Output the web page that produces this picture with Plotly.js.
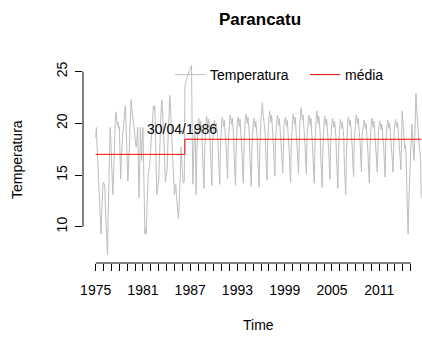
<!DOCTYPE html>
<html><head><meta charset="utf-8">
<script src="https://cdn.plot.ly/plotly-3.0.1.min.js"></script>
<style>html,body{margin:0;padding:0;background:#fff;overflow:hidden}#chart{width:422px;height:338px}</style>
</head><body><div id="chart"></div>
<script>
// Monthly series, ts(start = 1975, frequency = 12)
const startYear = 1975;
const monthsPerYear = 12;

const temp1975to1979 = [
  18.6, 19.6, 18.0, 16.2, 14.5, 13.0, 12.2, 10.8, 9.3, 11.2, 13.0, 14.1,
  14.3, 14.0, 13.8, 11.5, 9.8, 8.5, 7.3, 11.0, 15.5, 18.5, 19.6, 18.4,
  16.8, 15.0, 13.1, 14.5, 17.0, 19.2, 20.5, 21.1, 20.3, 19.8, 20.1, 19.5,
  19.7, 17.5, 14.6, 16.5, 18.2, 19.0, 19.3, 20.4, 21.0, 21.7, 20.5, 18.0,
  16.0, 14.4, 15.8, 17.9, 19.6, 21.0, 22.3, 21.4, 20.6, 20.0, 19.8, 19.3
];
const temp1980to1987 = [
  18.4, 17.9, 17.7, 18.8, 19.6, 16.0, 12.8, 15.8, 19.6, 18.2, 16.4, 18.5,
  19.6, 16.0, 12.5, 9.3, 9.8, 9.3, 11.5, 13.8, 15.0, 15.5, 15.8, 16.7,
  17.8, 19.0, 20.2, 21.0, 21.7, 21.3, 21.7, 19.5, 16.5, 13.1, 13.5, 14.0,
  14.4, 16.5, 18.8, 20.5, 21.8, 22.3, 21.0, 20.0, 19.0, 16.8, 14.3, 14.8,
  15.3, 15.6, 18.0, 20.5, 21.8, 22.7, 21.5, 19.6, 18.6, 17.2, 15.8, 14.5,
  13.1, 13.8, 14.1, 13.1, 12.2, 11.5, 10.8, 11.9, 13.1, 15.2, 17.7, 16.2,
  15.1, 14.4, 14.2, 14.5, 23.7, 23.8, 24.2, 24.3, 24.6, 24.8, 25.0, 25.2,
  25.3, 25.5, 25.6, 19.5, 14.1, 16.5, 19.2, 19.8, 18.0, 13.1, 16.8, 19.6
];
const temp1988to1999 = [
  20.1, 20.5, 19.9, 19.6, 20.2, 19.4, 18.7, 16.6, 14.8, 13.7, 17.4, 19.6,
  20.2, 20.7, 20.1, 19.8, 20.4, 19.5, 18.9, 16.9, 15.1, 14.0, 17.8, 19.8,
  19.9, 20.3, 19.8, 19.5, 20.0, 19.2, 18.6, 16.8, 15.2, 14.1, 17.6, 19.5,
  20.2, 20.6, 20.0, 19.7, 20.3, 19.5, 18.9, 17.4, 15.8, 14.6, 18.1, 19.8,
  20.3, 20.8, 20.2, 19.9, 20.5, 19.6, 19.0, 16.8, 15.1, 14.0, 17.6, 20.0,
  20.2, 20.6, 20.1, 19.7, 20.4, 19.5, 18.8, 17.0, 15.3, 14.2, 17.8, 19.7,
  20.4, 20.9, 20.3, 20.0, 20.6, 19.7, 19.1, 16.7, 15.0, 13.9, 17.5, 20.0,
  20.1, 20.5, 19.9, 19.6, 20.2, 19.3, 18.7, 16.6, 14.9, 13.8, 17.4, 19.8,
  20.6, 21.2, 22.0, 21.0, 20.5, 19.8, 19.2, 17.3, 15.6, 14.5, 18.0, 20.1,
  20.6, 21.2, 20.5, 20.1, 20.8, 19.9, 19.3, 17.7, 16.0, 14.9, 18.4, 20.2,
  20.3, 20.8, 20.2, 19.8, 20.5, 19.6, 19.0, 18.0, 16.3, 15.2, 18.7, 19.9,
  20.2, 20.6, 20.0, 19.7, 20.3, 19.4, 18.8, 17.1, 15.4, 14.3, 17.9, 19.8
];
const temp2000to2009 = [
  20.4, 20.9, 20.3, 19.9, 20.6, 19.7, 19.1, 18.0, 16.4, 15.2, 18.8, 20.0,
  20.7, 21.5, 20.9, 20.3, 20.8, 19.9, 19.3, 17.9, 16.2, 15.1, 18.6, 20.1,
  20.3, 20.8, 20.2, 19.8, 20.5, 19.6, 18.9, 17.0, 15.4, 14.2, 17.8, 19.9,
  20.5, 21.2, 20.6, 20.0, 20.7, 19.8, 19.1, 16.6, 14.9, 13.8, 17.4, 20.0,
  20.2, 20.7, 20.1, 19.8, 20.4, 19.5, 18.9, 17.4, 15.7, 14.6, 18.2, 19.8,
  20.1, 20.5, 19.9, 19.6, 20.2, 19.3, 18.7, 16.5, 14.8, 13.7, 17.3, 19.6,
  19.9, 20.4, 19.8, 19.5, 20.1, 19.2, 18.6, 15.9, 14.2, 13.1, 16.8, 19.5,
  20.2, 20.6, 20.0, 19.8, 20.3, 19.5, 18.9, 17.6, 15.9, 14.8, 18.3, 19.7,
  20.3, 20.8, 20.2, 19.9, 20.5, 19.7, 19.0, 18.1, 16.4, 15.3, 18.8, 19.8,
  19.9, 20.3, 19.8, 19.5, 20.0, 19.2, 18.6, 17.0, 15.3, 14.2, 17.8, 19.6
];
const temp2010to2016 = [
  20.0, 20.5, 19.9, 19.6, 20.2, 19.4, 18.8, 18.1, 16.5, 15.3, 18.7, 19.6,
  19.8, 20.2, 19.7, 19.4, 19.9, 19.1, 18.5, 17.6, 15.9, 14.8, 18.2, 19.5,
  19.9, 20.3, 19.8, 19.5, 20.0, 19.2, 18.6, 18.1, 16.4, 15.3, 18.6, 19.6,
  19.9, 20.4, 19.8, 19.6, 20.1, 19.3, 18.7, 18.3, 16.6, 15.5, 18.8, 21.2,
  20.3, 19.6, 18.8, 17.5, 17.9, 16.8, 14.0, 11.5, 9.3, 12.2, 14.5, 15.7,
  17.5, 18.5, 19.9, 18.5, 17.0, 16.4, 18.0, 20.5, 22.9, 21.5, 20.0, 19.2,
  18.6, 17.9, 17.2, 16.7, 12.8
];

// Means before / after the change point
const breakTime = 1986.33;
const breakLabel = "30/04/1986";
const meanBefore = 17.0;
const meanAfter = 18.46;

// Axis ticks
const tickYears = [];
for (let y = 1975; y <= 2015; y++) tickYears.push(y);
const labelYears = [1975, 1981, 1987, 1993, 1999, 2005, 2011];
const yTicks = [10, 15, 20, 25];

const temperature = [].concat(temp1975to1979, temp1980to1987, temp1988to1999, temp2000to2009, temp2010to2016);
const time = temperature.map((_, i) => startYear + i / monthsPerYear);
const endTime = time[time.length - 1];

const FONT = "Liberation Sans, Arial, Helvetica, sans-serif";

const traces = [
  {
    x: time, y: temperature, type: "scatter", mode: "lines", name: "Temperatura",
    line: {color: "#BEBEBE", width: 1}, legendwidth: 90
  },
  {
    x: [startYear, breakTime, breakTime, endTime],
    y: [meanBefore, meanBefore, meanAfter, meanAfter],
    type: "scatter", mode: "lines", name: "média",
    line: {color: "#FF0000", width: 1}, legendwidth: 42
  }
];

const W = 422, H = 338, L = 83, R = 0, T = 57, B = 75;
const pw = W - L - R, ph = H - T - B;

const layout = {
  width: W, height: H,
  margin: {l: L, r: R, t: T, b: B, pad: 0, autoexpand: false},
  paper_bgcolor: "#fff", plot_bgcolor: "#fff",
  font: {family: FONT, size: 14, color: "#000"},
  title: {text: "<b>Parancatu</b>", font: {family: FONT, size: 17, color: "#000"},
    xref: "container", x: 260 / W, xanchor: "center", yref: "container", y: 1 - 19.5 / H, yanchor: "middle"},
  xaxis: {
    range: [1973.387, 2016.434], showgrid: false, zeroline: false, showline: false,
    tickmode: "array", tickvals: tickYears,
    ticktext: tickYears.map(y => labelYears.includes(y) ? String(y) : ""),
    ticks: "outside", ticklen: 7, tickwidth: 1, tickcolor: "#000",
    ticklabelstandoff: 7, tickfont: {family: FONT, size: 14, color: "#000"}
  },
  yaxis: {
    range: [6.487, 26.42], showgrid: false, zeroline: false, showline: false,
    tickmode: "array", tickvals: yTicks, ticktext: yTicks.map(String),
    ticks: "outside", ticklen: 7, tickwidth: 1, tickcolor: "#000", tickangle: -90,
    ticklabelstandoff: 2, tickfont: {family: FONT, size: 14, color: "#000"}
  },
  shapes: [
    {type: "line", xref: "x", yref: "paper", x0: tickYears[0], x1: tickYears[tickYears.length - 1], y0: 0, y1: 0, line: {color: "#000", width: 1}},
    {type: "line", xref: "paper", yref: "y", x0: 0, x1: 0, y0: yTicks[0], y1: yTicks[yTicks.length - 1], line: {color: "#000", width: 1}}
  ],
  annotations: [
    {text: breakLabel, x: 1986.02, y: 19.44, xref: "x", yref: "y", showarrow: false, xanchor: "center", yanchor: "middle", font: {family: FONT, size: 14, color: "#000"}},
    {text: "Time", xref: "paper", yref: "paper", x: (258.5 - L) / pw, y: (ph + T - 325) / ph, showarrow: false, xanchor: "center", yanchor: "middle", font: {family: FONT, size: 14, color: "#000"}},
    {text: "Temperatura", xref: "paper", yref: "paper", x: (17 - L) / pw, y: (ph + T - 160) / ph, textangle: -90, showarrow: false, xanchor: "center", yanchor: "middle", font: {family: FONT, size: 14, color: "#000"}}
  ],
  showlegend: true,
  legend: {
    orientation: "h", x: (170 - L) / pw, xanchor: "left", y: (ph + T - 75) / ph, yanchor: "middle",
    bgcolor: "rgba(0,0,0,0)", borderwidth: 0, itemwidth: 30,
    font: {family: FONT, size: 14, color: "#000"}
  }
};

Plotly.newPlot("chart", traces, layout, {displayModeBar: false, staticPlot: true});
</script>
</body></html>
